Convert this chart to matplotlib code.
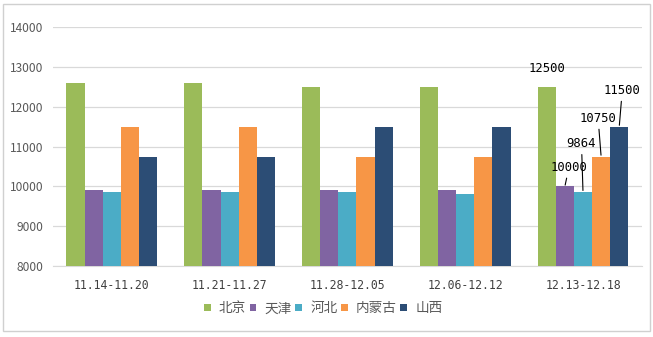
import matplotlib.pyplot as plt
import numpy as np
from matplotlib.patches import Rectangle

plt.rcParams['font.family'] = ['Noto Sans CJK SC', 'DejaVu Sans']

weeks = ["11.14-11.20", "11.21-11.27", "11.28-12.05", "12.06-12.12", "12.13-12.18"]
regions = ["北京", "天津", "河北", "内蒙古", "山西"]
beijing = [12600, 12600, 12500, 12500, 12500]
tianjin = [9900, 9900, 9900, 9900, 10000]
hebei = [9850, 9850, 9850, 9820, 9864]
neimenggu = [11500, 11500, 10750, 10750, 10750]
shanxi = [10750, 10750, 11500, 11500, 11500]
colors = ["#9BBB59", "#8064A2", "#4BACC6", "#F79646", "#2C4D75"]

series = [beijing, tianjin, hebei, neimenggu, shanxi]

fig = plt.figure(figsize=(6.53, 3.37), dpi=100)
ax = fig.add_axes([0.081, 0.210, 0.902, 0.710])

x = np.arange(len(weeks))
w = 1 / 6.5
bars = []
for i, (name, vals) in enumerate(zip(regions, series)):
    b = ax.bar(x + (i - 2) * w, vals, width=w, color=colors[i], label=name, zorder=3)
    bars.append(b)

ax.set_ylim(8000, 14000)
ax.set_xlim(-0.5, 4.5)
ax.set_yticks(np.arange(8000, 14001, 1000))
ax.yaxis.grid(True, color="#D9D9D9", linewidth=0.9, zorder=0)
for s in ["top", "right", "left"]:
    ax.spines[s].set_visible(False)
ax.spines["bottom"].set_color("#D9D9D9")
ax.tick_params(axis="both", length=0)
ax.tick_params(axis="y", labelsize=8.6, labelcolor="#595959", pad=7)
ax.set_xticks(x)
ax.set_xticklabels(weeks, family="DejaVu Sans Mono", fontsize=8.3, color="#404040")
ax.tick_params(axis="x", pad=9)

# labels on the last week, with leader lines where they sit off the bar
offsets = [(0, 18, False), (4, 19, True), (-1.5, 48, True), (-3, 38, True), (3, 36, True)]
for i, (dx, dy, line) in enumerate(offsets):
    rect = bars[i][4]
    xc = rect.get_x() + rect.get_width() / 2
    val = series[i][4]
    ax.annotate(str(val), xy=(xc, val), xytext=(dx, dy), textcoords="offset pixels",
                ha="center", va="center", fontsize=8.8, family="DejaVu Sans Mono",
                arrowprops=dict(arrowstyle="-", color="black", lw=0.8,
                                shrinkA=1, shrinkB=1) if line else None,
                zorder=5)

fig.legend(loc="center", bbox_to_anchor=(0.495, 0.085), ncol=5, frameon=False,
           handlelength=0.5, handleheight=0.5, handletextpad=0.6,
           columnspacing=0.25, fontsize=9.8, labelcolor="#595959")

fig.patches.append(Rectangle((0.004, 0.018), 0.991, 0.97, transform=fig.transFigure,
                             fill=False, edgecolor="#D0D0D0", linewidth=1))

fig.savefig("out.png", dpi=100)
